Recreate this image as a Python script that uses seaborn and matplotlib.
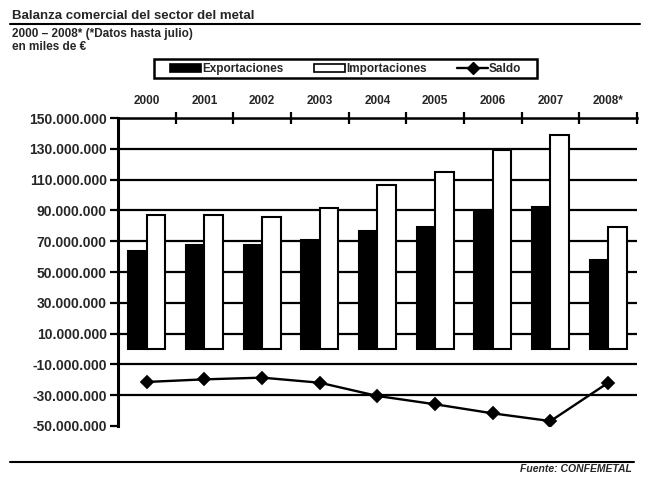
import numpy as np
import pandas as pd
import seaborn as sns
import matplotlib.pyplot as plt
from matplotlib.lines import Line2D
from matplotlib.patches import Patch, Rectangle
from matplotlib.ticker import FuncFormatter, FixedLocator

# datos en miles de euros
years = ['2000', '2001', '2002', '2003', '2004', '2005', '2006', '2007', '2008*']
exportaciones = [63.5, 67.5, 67.5, 71.0, 76.6, 79.5, 89.6, 92.5, 57.8]
importaciones = [86.8, 87.0, 86.0, 91.8, 106.5, 114.7, 129.0, 139.0, 79.5]
saldo = [-21.4, -19.7, -18.6, -21.9, -30.5, -35.9, -41.8, -46.8, -21.9]
yticks = [-50, -30, -10, 10, 30, 50, 70, 90, 110, 130, 150]

sns.set_style('white')
plt.rcParams['font.family'] = ['Liberation Sans', 'DejaVu Sans']
plt.rcParams['font.weight'] = 'bold'

df = pd.DataFrame({'year': years * 2,
                   'valor': np.array(exportaciones + importaciones) * 1e6,
                   'serie': ['Exportaciones'] * 9 + ['Importaciones'] * 9})
df_saldo = pd.DataFrame({'year': years, 'saldo': np.array(saldo) * 1e6})

fig = plt.figure(figsize=(6.5, 4.78), dpi=100)
ax = fig.add_axes([0.1815, 0.1088, 0.7985, 0.6442])

sns.barplot(data=df, x='year', y='valor', hue='serie', palette=['black', 'white'],
            width=0.64, edgecolor='black', linewidth=1.5, legend=False, ax=ax)
sns.pointplot(data=df_saldo, x='year', y='saldo', color='black', markers='D',
              markersize=6, linewidth=1.7, ax=ax)

ax.set_xlim(-0.5, 8.5)
ax.set_ylim(-50e6, 150e6)
ax.set_yticks([v * 1e6 for v in yticks])
ax.yaxis.set_major_formatter(FuncFormatter(lambda v, p: f"{int(round(v)):,}".replace(',', '.')))
ax.set_axisbelow(True)
ax.yaxis.grid(True, color='black', linewidth=1.6)
ax.get_ygridlines()[0].set_visible(False)
ax.set_xlabel('')
ax.set_ylabel('')

ax.xaxis.tick_top()
ax.xaxis.set_minor_locator(FixedLocator(np.arange(0.5, 9, 1)))
ax.tick_params(axis='x', which='major', length=0, pad=8, labelsize=8.5)
ax.tick_params(axis='x', which='minor', top=True, bottom=False, direction='inout',
               length=9, width=1.6, color='black')
ax.tick_params(axis='y', which='major', left=True, direction='out', length=6,
               width=1.6, color='black', labelsize=10, pad=2)
for lab in ax.get_xticklabels() + ax.get_yticklabels():
    lab.set_fontweight('bold')

for s in ['right', 'bottom']:
    ax.spines[s].set_visible(False)
ax.spines['left'].set_linewidth(2.2)
ax.spines['top'].set_linewidth(1.8)
ax.spines['left'].set_color('black')
ax.spines['top'].set_color('black')

handles = [Patch(facecolor='black', edgecolor='black', linewidth=1.2, label='Exportaciones'),
           Patch(facecolor='white', edgecolor='black', linewidth=1.2, label='Importaciones'),
           Line2D([], [], color='black', marker='D', markersize=6, linewidth=1.7, label='Saldo')]
leg = fig.legend(handles=handles, loc='center', bbox_to_anchor=(0.532, 0.856), ncol=3,
                 frameon=False, handlelength=2.6, handleheight=0.65, handletextpad=0.1,
                 columnspacing=2.6, borderpad=0.2, prop={'weight': 'bold', 'size': 8.5})
fig.add_artist(Rectangle((0.237, 0.837), 0.589, 0.039, transform=fig.transFigure,
                         facecolor='none', edgecolor='black', linewidth=1.8))

fig.text(0.018, 0.98, 'Balanza comercial del sector del metal', fontsize=9.5,
         fontweight='bold', va='top', ha='left')
fig.add_artist(Line2D([0.015, 0.985], [0.95, 0.95], color='black', linewidth=1.5,
                      transform=fig.transFigure))
fig.text(0.018, 0.942, '2000 – 2008* (*Datos hasta julio)', fontsize=8.5,
         fontweight='bold', va='top', ha='left')
fig.text(0.018, 0.914, 'en miles de €', fontsize=8.5, fontweight='bold', va='top', ha='left')
fig.add_artist(Line2D([0.015, 0.975], [0.034, 0.034], color='black', linewidth=1.5,
                      transform=fig.transFigure))
fig.text(0.972, 0.018, 'Fuente: CONFEMETAL', fontsize=7.5, fontweight='bold',
         fontstyle='italic', va='center', ha='right')

fig.savefig('out.png', dpi=100)
